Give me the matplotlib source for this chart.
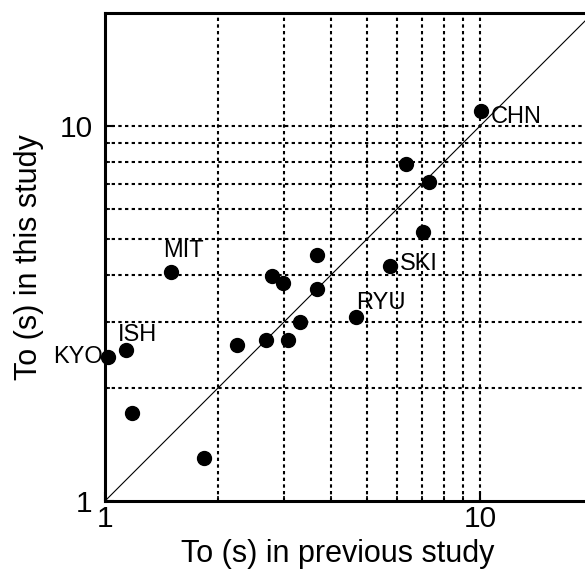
import numpy as np
import matplotlib
matplotlib.use("Agg")
import matplotlib.pyplot as plt
from matplotlib.ticker import FixedLocator, NullFormatter

plt.rcParams['font.family'] = ['Liberation Sans', 'DejaVu Sans']

# -------------------------- Data --------------------------
# To (s) in previous study vs. To (s) in this study
prev_study = [1.02, 1.14, 1.18, 1.84, 2.25, 2.68, 3.08, 3.31, 3.67, 4.67,
              2.78, 2.99, 3.67, 5.75, 7.06, 6.35, 7.31, 10.06, 1.50]
this_study = [2.42, 2.52, 1.72, 1.30, 2.61, 2.69, 2.69, 3.00, 3.67, 3.09,
              3.97, 3.81, 4.53, 4.24, 5.21, 7.90, 7.10, 10.96, 4.09]

# labelled sites
site_names = ["KYO", "ISH", "MIT", "RYU", "SKI", "CHN"]
site_x = [1.02, 1.14, 1.50, 4.67, 5.75, 10.06]
site_y = [2.42, 2.52, 4.09, 3.09, 4.24, 10.96]

grid_vals = [2, 3, 4, 5, 6, 7, 8, 9, 10]

# -------------------------- Plot --------------------------
fig = plt.figure(figsize=(5.85, 5.69), dpi=100)
ax = fig.add_axes([105 / 585, 68 / 569, 488 / 585, 488 / 569])
ax.set_xscale('log')
ax.set_yscale('log')
ax.set_xlim(1, 20)
ax.set_ylim(1, 20)

# dotted grid only between 2 and 10
for g in grid_vals:
    ax.axvline(g, color='black', lw=1.5, ls=(0, (1.6, 1.6)), zorder=1)
    ax.axhline(g, color='black', lw=1.5, ls=(0, (1.6, 1.6)), zorder=1)

# 1:1 line
ax.plot([1, 20], [1, 20], color='black', lw=0.8, zorder=2)

ax.plot(prev_study, this_study, 'o', color='black', markersize=10,
        clip_on=False, zorder=3)

# site labels: offset in points, alignment
offsets = {
    "KYO": (-4, 0, 'right'),
    "ISH": (-6, 11, 'left'),
    "MIT": (-6, 15, 'left'),
    "RYU": (0, 10, 'left'),
    "SKI": (7, 1, 'left'),
    "CHN": (7, -4, 'left'),
}
for name, xv, yv in zip(site_names, site_x, site_y):
    dx, dy, ha = offsets[name]
    ax.annotate(name, (xv, yv), xytext=(dx, dy), textcoords='offset points',
                ha=ha, va='center', fontsize=17, zorder=4)

# axes styling
for side in ['left', 'bottom', 'top']:
    ax.spines[side].set_linewidth(2.2)
ax.spines['right'].set_visible(False)

ax.xaxis.set_major_locator(FixedLocator([1, 10]))
ax.yaxis.set_major_locator(FixedLocator([1, 10]))
ax.xaxis.set_minor_locator(FixedLocator(grid_vals[:-1]))
ax.yaxis.set_minor_locator(FixedLocator(grid_vals[:-1]))
ax.xaxis.set_minor_formatter(NullFormatter())
ax.yaxis.set_minor_formatter(NullFormatter())
ax.set_xticklabels(['1', '10'])
ax.set_yticklabels(['1', '10'])
ax.tick_params(which='major', direction='in', length=6.5, width=1.5,
               labelsize=21.5)
ax.tick_params(axis='x', which='major', pad=3)
ax.tick_params(axis='y', which='major', pad=9)
ax.tick_params(which='minor', direction='in', length=3.5, width=1.2)
ax.tick_params(top=False, right=False, which='both')
for lbl in ax.get_yticklabels():
    lbl.set_verticalalignment('center_baseline')

ax.set_xlabel("To (s) in previous study", fontsize=22)
ax.set_ylabel("To (s) in this study", fontsize=22)
ax.xaxis.set_label_coords(0.477, -0.077)
ax.yaxis.set_label_coords(-0.125, 0.5)

fig.savefig("out.png", dpi=100)
